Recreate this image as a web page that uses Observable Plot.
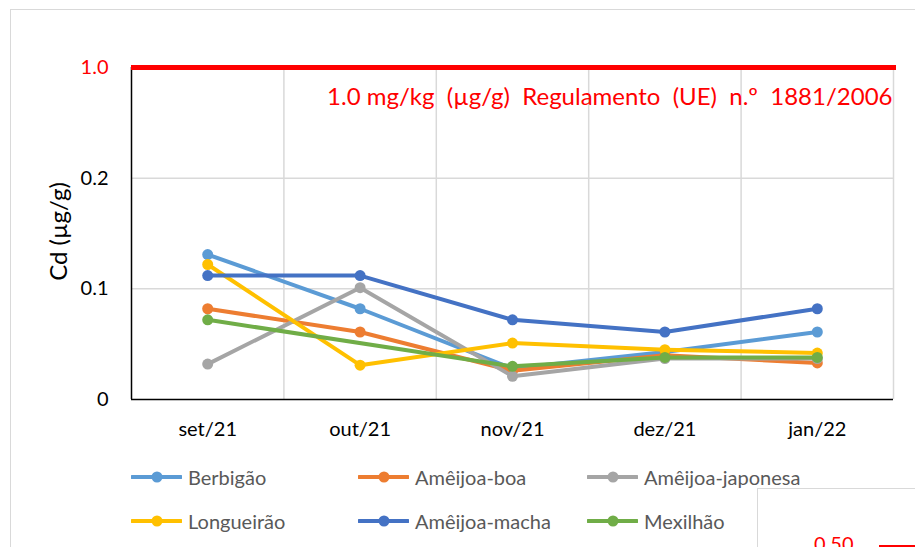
<!DOCTYPE html>
<html>
<head>
<meta charset="utf-8">
<script src="https://cdn.jsdelivr.net/npm/d3@7"></script>
<script src="https://cdn.jsdelivr.net/npm/@observablehq/plot@0.6"></script>
<style>
  html, body { margin: 0; padding: 0; background: #fff; }
  #wrap { position: relative; width: 915px; height: 547px; overflow: hidden; font-family: Lato, sans-serif; }
  #frame { position: absolute; left: 10px; top: 9px; width: 1000px; height: 700px; border-left: 1px solid #d9d9d9; border-top: 1px solid #d9d9d9; }
  #chart { position: absolute; left: 0; top: 0; }
  #legend { position: absolute; left: 131px; top: 455px; display: grid; grid-template-columns: 227px 229px 200px; grid-auto-rows: 44px; }
  .item { display: flex; align-items: center; color: #595959; font-size: 20px; white-space: nowrap; }
  .item svg { margin-right: 6px; flex: none; }
  #other { position: absolute; left: 757px; top: 488px; width: 300px; height: 100px; border-left: 1px solid #d9d9d9; border-top: 1px solid #d9d9d9; background: #fff; }
  #other .lbl { position: absolute; left: 56px; top: 44px; color: #ff0000; font-size: 20px; line-height: 20px; }
  #other .ln { position: absolute; left: 121px; top: 56px; width: 100px; height: 5px; background: #ff0000; }
</style>
</head>
<body>
<div id="wrap">
  <div id="frame"></div>
  <div id="chart"></div>
  <div id="legend"></div>
  <div id="other"><span class="lbl">0.50</span><div class="ln"></div></div>
</div>
<script>
// ---- data ----
const months = ["set/21", "out/21", "nov/21", "dez/21", "jan/22"];
const seriesNames = ["Berbigão", "Amêijoa-boa", "Amêijoa-japonesa", "Longueirão", "Amêijoa-macha", "Mexilhão"];
const seriesColors = ["#5B9BD5", "#ED7D31", "#A5A5A5", "#FFC000", "#4472C4", "#70AD47"];
const berbigao        = [0.131, 0.082, 0.028, 0.043, 0.061];
const ameijoaBoa      = [0.082, 0.061, 0.026, 0.040, 0.033];
const ameijoaJaponesa = [0.032, 0.101, 0.021, 0.037, 0.037];
const longueirao      = [0.122, 0.031, 0.051, 0.045, 0.042];
const ameijoaMacha    = [0.112, 0.112, 0.072, 0.061, 0.082];
const mexilhao        = [0.072, null,  0.030, 0.038, 0.038];
const yTickValues = [0, 0.1, 0.2];
const limitValue = 1.0;
const limitLabel = "1.0 mg/kg  (µg/g)  Regulamento  (UE)  n.º  1881/2006";
const yLabel = "Cd (µg/g)";

const seriesValues = [berbigao, ameijoaBoa, ameijoaJaponesa, longueirao, ameijoaMacha, mexilhao];

// table built from the arrays
const rows = [];
seriesNames.forEach((name, s) => {
  seriesValues[s].forEach((v, i) => {
    if (v != null) rows.push({series: name, idx: i, month: months[i], value: v});
  });
});

// ---- layout ----
const W = 915, H = 446;
const mL = 131, mR = 22, mT = 67, mB = H - 399;
const yDomain = [...yTickValues, limitValue];
const yRange = d3.quantize(d3.interpolateNumber(H - mB, mT), yDomain.length);
const idx = d3.range(months.length);
const boundaries = idx.map(i => i + 0.5);

const marks = [
  Plot.gridY(yTickValues.filter(v => v > 0), {stroke: "#d9d9d9", strokeOpacity: 1, strokeWidth: 1.5}),
  Plot.gridX(boundaries, {stroke: "#d9d9d9", strokeOpacity: 1, strokeWidth: 1.5}),
  Plot.ruleY([0], {stroke: "#000", strokeWidth: 1.5}),
  Plot.ruleX([-0.5], {y1: 0, y2: limitValue, stroke: "#000", strokeWidth: 1.5}),
  Plot.ruleY([limitValue], {stroke: "#ff0000", strokeWidth: 5, insetRight: -3}),
  Plot.text([limitLabel], {frameAnchor: "top-right", textAnchor: "end", lineAnchor: "middle", dy: 30, dx: -1, fill: "#ff0000", fontSize: 24}),
  Plot.axisX(idx, {tickSize: 0, tickPadding: 22, fontSize: 20, tickFormat: i => months[i], label: null}),
  Plot.axisY(yTickValues, {tickSize: 0, tickPadding: 23, fontSize: 20, tickFormat: d => d === 0 ? "0" : d3.format(".1f")(d), label: null}),
  Plot.axisY([limitValue], {tickSize: 0, tickPadding: 23, fontSize: 20, fill: "#ff0000", tickFormat: d3.format(".1f"), label: null}),
  Plot.text([yLabel], {frameAnchor: "left", textAnchor: "middle", lineAnchor: "middle", rotate: -90, dx: -72, dy: -2, fontSize: 24, fill: "#000"})
];
seriesNames.forEach((name, s) => {
  const d = rows.filter(r => r.series === name);
  marks.push(Plot.line(d, {x: "idx", y: "value", stroke: seriesColors[s], strokeWidth: 4, curve: "linear"}));
  marks.push(Plot.dot(d, {x: "idx", y: "value", fill: seriesColors[s], r: 5.5}));
});

const chart = Plot.plot({
  width: W, height: H,
  marginLeft: mL, marginRight: mR, marginTop: mT, marginBottom: mB,
  style: {fontFamily: "Lato, sans-serif", background: "transparent", color: "#000", overflow: "visible"},
  x: {type: "linear", domain: [-0.5, months.length - 0.5]},
  y: {type: "linear", domain: yDomain, range: yRange},
  marks
});
document.getElementById("chart").appendChild(chart);

// ---- legend (HTML) ----
const legend = document.getElementById("legend");
seriesNames.forEach((name, s) => {
  const item = document.createElement("div");
  item.className = "item";
  const c = seriesColors[s];
  item.innerHTML = `<svg width="51" height="12"><line x1="1" x2="50" y1="6" y2="6" stroke="${c}" stroke-width="4" stroke-linecap="round"/><circle cx="26" cy="6" r="5.5" fill="${c}"/></svg><span>${name}</span>`;
  legend.appendChild(item);
});
</script>
</body>
</html>
